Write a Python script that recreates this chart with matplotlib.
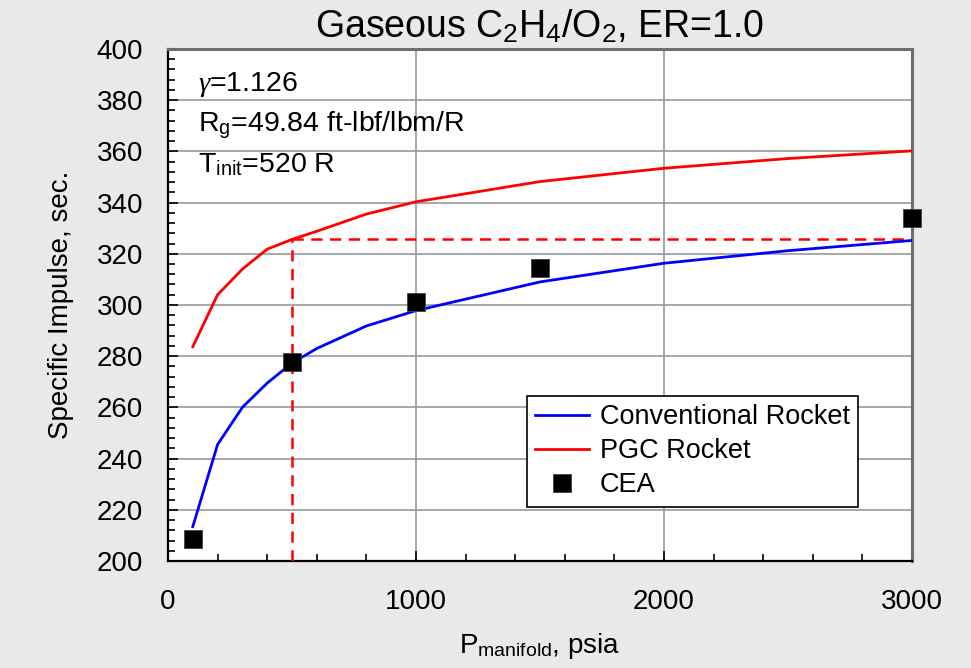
import matplotlib
matplotlib.use("Agg")
import matplotlib.pyplot as plt
from matplotlib.ticker import MultipleLocator

plt.rcParams["font.family"] = ["Liberation Sans", "DejaVu Sans"]
plt.rcParams["mathtext.fontset"] = "custom"
plt.rcParams["mathtext.rm"] = "Liberation Sans"
plt.rcParams["mathtext.it"] = "Liberation Serif:italic"

# ── Data ──────────────────────────────────────────────────────────────────────
p_curve = [100, 200, 300, 400, 500, 600, 800, 1000, 1500, 2000, 2500, 3000]
isp_conventional = [213.4, 245.5, 260.0, 269.5, 277.3, 283.0, 291.8, 297.8,
                    309.0, 316.3, 321.2, 325.2]
isp_pgc = [283.7, 304.0, 314.0, 321.8, 325.6, 328.8, 335.5, 340.3,
           348.2, 353.4, 357.2, 360.2]

p_cea = [100, 500, 1000, 1500, 3000]
isp_cea = [208.6, 277.7, 301.3, 314.3, 334.1]

p_ref = 500
isp_ref = 325.6

FIG_BG = "#e9e9e9"

fig = plt.figure(figsize=(9.71, 6.68), dpi=100)
fig.patch.set_facecolor(FIG_BG)
ax = fig.add_axes([0.1730, 0.1602, 0.7662, 0.7665])
ax.set_facecolor("white")

ax.plot(p_curve, isp_conventional, color="#0000ff", lw=2.0,
        label="Conventional Rocket", zorder=4)
ax.plot(p_curve, isp_pgc, color="#ff0000", lw=2.0,
        label="PGC Rocket", zorder=4)
ax.plot(p_cea, isp_cea, ls="none", marker="s", ms=13.5, color="black",
        mec="#444444", mew=0.6, label="CEA", zorder=5, clip_on=False)

# reference dashed lines at 500 psia
ax.plot([p_ref, p_ref], [200, isp_ref], color="#ff0000", lw=1.8,
        ls=(0, (4.5, 3)), zorder=3)
ax.plot([p_ref, 3000], [isp_ref, isp_ref], color="#ff0000", lw=1.8,
        ls=(0, (4.5, 3)), zorder=3)

ax.set_xlim(0, 3000)
ax.set_ylim(200, 400)
ax.xaxis.set_major_locator(MultipleLocator(1000))
ax.xaxis.set_minor_locator(MultipleLocator(200))
ax.yaxis.set_major_locator(MultipleLocator(20))
ax.yaxis.set_minor_locator(MultipleLocator(4))
ax.grid(True, which="major", color="#9a9a9a", lw=1.2, zorder=1)
ax.tick_params(which="both", direction="in", top=False, right=False,
               labelsize=20, color="black")
ax.tick_params(which="major", length=7, width=1.2)
ax.tick_params(which="minor", length=5, width=1.2)
ax.tick_params(axis="x", pad=20)
ax.tick_params(axis="y", pad=18)

for side in ("left", "bottom"):
    ax.spines[side].set_color("black")
    ax.spines[side].set_linewidth(1.6)
for side in ("top", "right"):
    ax.spines[side].set_color("#6e6e6e")
    ax.spines[side].set_linewidth(2.2)

ax.set_title(r"Gaseous C$_2$H$_4$/O$_2$, ER=1.0", fontsize=27, pad=8)
ax.set_xlabel(r"P$_{\rm manifold}$, psia", fontsize=20, labelpad=12)
ax.set_ylabel("Specific Impulse, sec.", fontsize=20, labelpad=16)

ax.text(0.04, 0.93, r"$\it{\gamma}$=1.126", transform=ax.transAxes,
        fontsize=20.5, va="center", ha="left")
ax.text(0.04, 0.852, r"R$_{\rm g}$=49.84 ft-lbf/lbm/R", transform=ax.transAxes,
        fontsize=20.5, va="center", ha="left")
ax.text(0.04, 0.775, r"T$_{\rm init}$=520 R", transform=ax.transAxes,
        fontsize=20.5, va="center", ha="left")

leg = ax.legend(loc="upper left", bbox_to_anchor=(0.4825, 0.322),
                fontsize=19.5, frameon=True, fancybox=False,
                borderpad=0.3, labelspacing=0.3, handlelength=2.0,
                handletextpad=0.4, borderaxespad=0)
leg.get_frame().set_edgecolor("black")
leg.get_frame().set_linewidth(1.2)
leg.get_frame().set_alpha(1)

fig.savefig("out.png", dpi=100, facecolor=FIG_BG)
